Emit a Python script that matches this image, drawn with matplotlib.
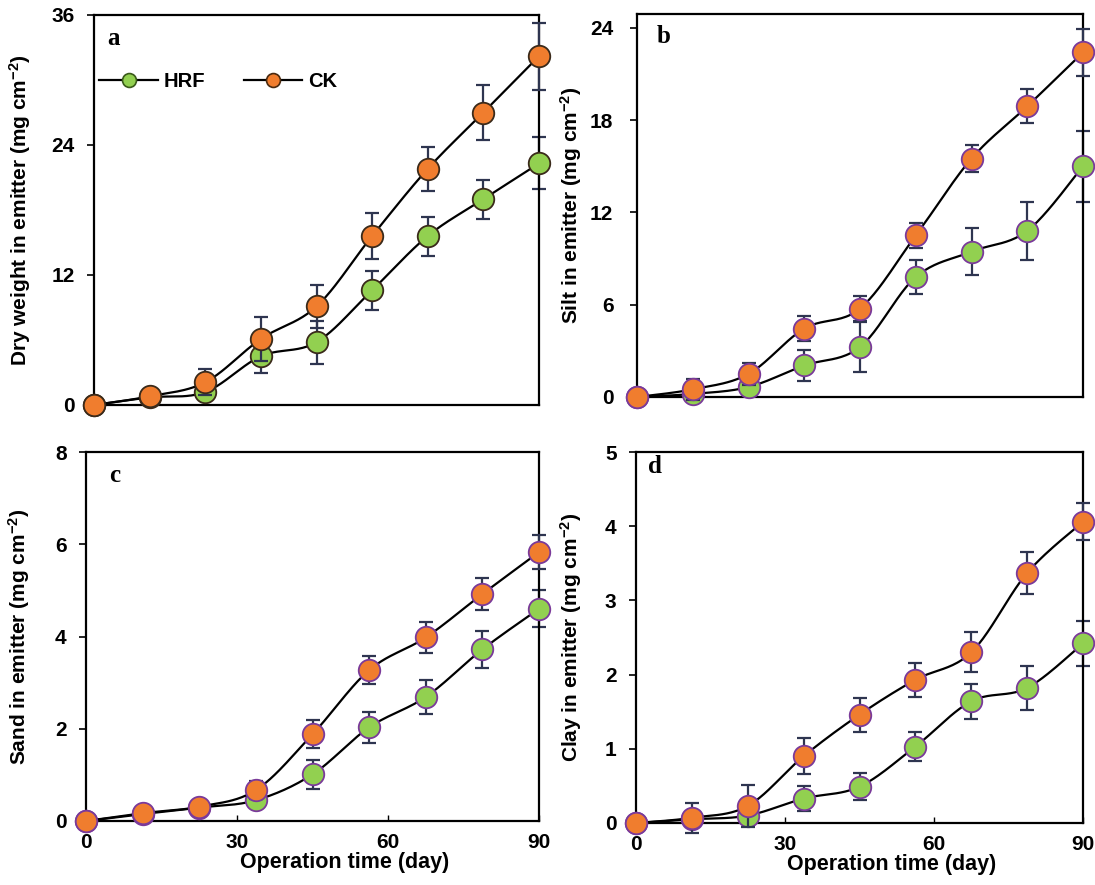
import numpy as np
import matplotlib
matplotlib.use("Agg")
import matplotlib.pyplot as plt
from matplotlib.lines import Line2D

plt.rcParams['font.family'] = ['Liberation Sans', 'DejaVu Sans']
plt.rcParams['font.weight'] = 'bold'
plt.rcParams['mathtext.fontset'] = 'custom'
plt.rcParams['mathtext.rm'] = 'Liberation Sans:bold'
plt.rcParams['mathtext.bf'] = 'Liberation Sans:bold'
plt.rcParams['mathtext.default'] = 'bf'

# ---------------- data ----------------
days = [0, 11.25, 22.5, 33.75, 45, 56.25, 67.5, 78.75, 90]

dry_hrf = [0, 0.7, 1.2, 4.5, 5.8, 10.6, 15.6, 19.0, 22.3]
dry_hrf_err = [0, 0.3, 0.5, 1.5, 2.0, 1.8, 1.8, 1.8, 2.4]
dry_ck = [0, 0.8, 2.1, 6.1, 9.1, 15.6, 21.8, 27.0, 32.2]
dry_ck_err = [0, 0.5, 1.2, 2.0, 2.0, 2.1, 2.0, 2.5, 3.1]

silt_hrf = [0, 0.2, 0.65, 2.05, 3.25, 7.8, 9.45, 10.8, 15.0]
silt_hrf_err = [0, 0.2, 0.3, 1.0, 1.6, 1.1, 1.55, 1.9, 2.3]
silt_ck = [0, 0.5, 1.5, 4.45, 5.75, 10.5, 15.5, 18.9, 22.4]
silt_ck_err = [0, 0.7, 0.7, 0.8, 0.8, 0.8, 0.9, 1.1, 1.5]

sand_hrf = [0, 0.15, 0.29, 0.45, 1.01, 2.03, 2.69, 3.72, 4.6]
sand_hrf_err = [0, 0.05, 0.08, 0.1, 0.32, 0.33, 0.36, 0.41, 0.4]
sand_ck = [0, 0.17, 0.31, 0.67, 1.88, 3.27, 3.98, 4.92, 5.83]
sand_ck_err = [0, 0.1, 0.1, 0.2, 0.3, 0.31, 0.33, 0.35, 0.36]

clay_hrf = [0, 0.05, 0.1, 0.33, 0.49, 1.03, 1.64, 1.82, 2.42]
clay_hrf_err = [0, 0.05, 0.1, 0.17, 0.18, 0.2, 0.24, 0.3, 0.3]
clay_ck = [0, 0.07, 0.23, 0.9, 1.46, 1.93, 2.3, 3.37, 4.06]
clay_ck_err = [0, 0.2, 0.28, 0.24, 0.23, 0.23, 0.27, 0.28, 0.25]

xticks = [0, 30, 60, 90]
yticks_a = [0, 12, 24, 36]
yticks_b = [0, 6, 12, 18, 24]
yticks_c = [0, 2, 4, 6, 8]
yticks_d = [0, 1, 2, 3, 4, 5]

labels = ['HRF', 'CK']
panel_letters = ['a', 'b', 'c', 'd']
ylabels = [r'Dry weight in emitter (mg cm$^{-2}$)',
           r'Silt in emitter (mg cm$^{-2}$)',
           r'Sand in emitter (mg cm$^{-2}$)',
           r'Clay in emitter (mg cm$^{-2}$)']
xlabel = 'Operation time (day)'

# ---------------- style ----------------
GREEN = '#92D050'
ORANGE = '#F07D2E'
ERR = '#2E3550'


def smooth(x, y, n=25):
    pts = np.column_stack([x, y]).astype(float)
    m = len(pts)
    xs, ys = [], []
    t = np.linspace(0, 1, n)[:, None]
    for i in range(m - 1):
        p0 = pts[max(i - 1, 0)]
        p1 = pts[i]
        p2 = pts[i + 1]
        p3 = pts[min(i + 2, m - 1)]
        c1 = p1 + (p2 - p0) / 6.0
        c2 = p2 - (p3 - p1) / 6.0
        b = ((1 - t) ** 3) * p1 + 3 * ((1 - t) ** 2) * t * c1 + 3 * (1 - t) * t ** 2 * c2 + t ** 3 * p2
        xs.extend(b[:, 0]); ys.extend(b[:, 1])
    return np.array(xs), np.array(ys)


fig = plt.figure(figsize=(10.95, 8.85), dpi=100)

W, H = 1095, 885
boxes = [  # left, top, right, bottom in pixels
    (94, 15, 539, 405),
    (637, 14, 1083, 397),
    (86, 452, 539, 821),
    (636, 452, 1083, 823),
]
ylims = [(0, 36), (0, 24.9), (0, 8), (0, 5)]
yticks_all = [yticks_a, yticks_b, yticks_c, yticks_d]
series = [
    (dry_hrf, dry_hrf_err, dry_ck, dry_ck_err),
    (silt_hrf, silt_hrf_err, silt_ck, silt_ck_err),
    (sand_hrf, sand_hrf_err, sand_ck, sand_ck_err),
    (clay_hrf, clay_hrf_err, clay_ck, clay_ck_err),
]
edges = ['#3a2a1a', '#7A3A9A', '#7A3A9A', '#7A3A9A']
letter_pos = [(0.03, 0.923), (0.045, 0.924), (0.05, 0.919), (0.027, 0.943)]
ylabel_x = [33, 584, 32, 584]   # pixel position of the label's axis-facing edge
ypads = [9, 12, 9, 9]

for k in range(4):
    l, t_, r, b = boxes[k]
    ax = fig.add_axes([l / W, (H - b) / H, (r - l) / W, (b - t_) / H])
    hrf, hrf_e, ck, ck_e = series[k]
    ec = edges[k]

    ax.errorbar(days, hrf, yerr=hrf_e, fmt='none', ecolor=ERR, elinewidth=1.6,
                capsize=5, capthick=1.6, zorder=2, clip_on=False)
    ax.errorbar(days, ck, yerr=ck_e, fmt='none', ecolor=ERR, elinewidth=1.6,
                capsize=5, capthick=1.6, zorder=4, clip_on=False)
    sx, sy = smooth(days, hrf)
    ax.plot(sx, sy, color='black', lw=1.6, zorder=3, clip_on=False)
    ax.plot(days, hrf, 'o', ms=15.5, mfc=GREEN, mec=ec, mew=1.3, zorder=3.5, clip_on=False)
    sx, sy = smooth(days, ck)
    ax.plot(sx, sy, color='black', lw=1.6, zorder=5, clip_on=False)
    ax.plot(days, ck, 'o', ms=15.5, mfc=ORANGE, mec=ec, mew=1.3, zorder=6, clip_on=False)

    ax.set_xlim(0, 90)
    ax.set_ylim(*ylims[k])
    ax.set_yticks(yticks_all[k])
    ax.set_xticks(xticks)
    for sp in ax.spines.values():
        sp.set_linewidth(1.6)
        sp.set_color('black')
    ax.tick_params(axis='y', direction='out', length=5, width=1.2, pad=ypads[k],
                   labelsize=15, colors='black')
    if k >= 2:
        ax.tick_params(axis='x', direction='in', length=4, width=1.0, pad=9,
                       labelsize=15)
        ax.set_xlabel(xlabel, fontsize=15.5, fontweight='bold')
        ax.xaxis.set_label_coords(0.572, -0.083)
    else:
        ax.tick_params(axis='x', length=0, labelbottom=False)
    for lab in ax.get_xticklabels() + ax.get_yticklabels():
        lab.set_fontweight('bold')
    ax.set_ylabel(ylabels[k], fontsize=15, fontweight='bold')
    ax.yaxis.set_label_coords((ylabel_x[k] - l) / (r - l), 0.5)

    ax.text(letter_pos[k][0], letter_pos[k][1], panel_letters[k], transform=ax.transAxes,
            fontsize=18, fontweight='bold', family='Liberation Serif', va='baseline', ha='left')

    if k == 0:
        handles = [
            Line2D([], [], color='black', lw=1.6, marker='o', ms=10, mfc=GREEN, mec='#3a5a1a', mew=1.2),
            Line2D([], [], color='black', lw=1.6, marker='o', ms=10, mfc=ORANGE, mec='#4a2a10', mew=1.2),
        ]
        ax.legend(handles, labels, loc='center left', bbox_to_anchor=(0.012, 0.83),
                  ncol=2, frameon=False, borderpad=0, borderaxespad=0,
                  handlelength=2.9, handletextpad=0.3, columnspacing=1.9,
                  prop={'family': 'Liberation Sans', 'weight': 'bold', 'size': 14.5})

fig.savefig('out.png', dpi=100)
